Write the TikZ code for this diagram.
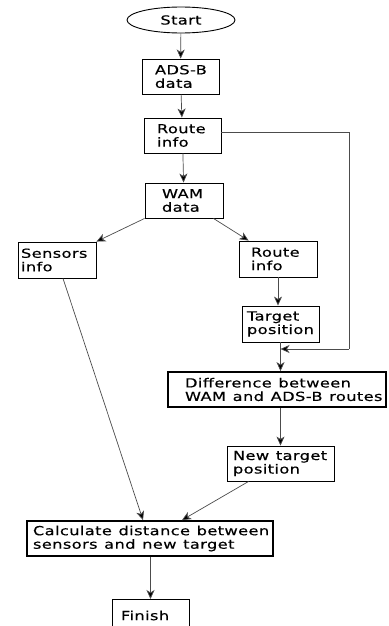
\documentclass[tikz,border=0pt]{standalone}
\usepackage{fontspec}
\setmainfont{DejaVu Sans}[FakeStretch=1.3,LetterSpace=3,WordSpace=1.2,FakeBold=0.4]
\usetikzlibrary{shapes.geometric,arrows.meta}
\begin{document}
\begin{tikzpicture}[x=1pt,y=-1pt,
  font=\fontsize{12.5}{13.5}\selectfont,
  box/.style={draw, line width=0.9pt, align=flush left, minimum height=35pt, inner ysep=0pt},
  bigbox/.style={box, line width=1.8pt},
  conn/.style={draw=black!70, line width=0.7pt},
  arr/.style={conn, -{Stealth[length=9pt,width=8pt,inset=2.5pt,fill=black]}}]
\useasboundingbox (0,0) rectangle (388,626);
\clip (0,0) rectangle (388,626);
\fill[white] (0,0) rectangle (388,626);
\node[draw, line width=0.9pt, ellipse, minimum width=108pt, minimum height=26pt, inner sep=0pt] (start) at (181,20) {Start};
\node[box, inner xsep=13pt, text width=51pt] (ads) at (180.5,76.5) {\mbox{ADS-B}\\\mbox{data}};
\node[box, inner xsep=13pt, text width=51pt] (route1) at (182.5,135.5) {\mbox{Route}\\\mbox{info}};
\node[box, inner xsep=17pt, text width=44pt] (wam) at (184,200.5) {\mbox{WAM}\\\mbox{data}};
\node[box, inner xsep=3pt, text width=72pt, minimum height=36pt] (sens) at (57,260) {\mbox{Sensors}\\\mbox{info}};
\node[box, inner xsep=12pt, text width=54pt, minimum height=36pt] (route2) at (278,259) {\mbox{Route}\\\mbox{info}};
\node[box, inner xsep=5pt, text width=67pt, minimum height=36pt] (tp) at (280.5,324) {\mbox{Target}\\\mbox{position}};
\node[bigbox, inner xsep=17pt, text width=184pt] (diff) at (277,389.5) {\mbox{Difference between}\\\mbox{WAM and ADS-B routes}};
\node[box, inner xsep=6pt, text width=95pt] (newt) at (280.5,463.5) {\mbox{New target}\\\mbox{position}};
\node[bigbox, inner xsep=6pt, text width=234pt] (calc) at (150,538.5) {\mbox{Calculate distance between}\\\mbox{sensors and new target}};
\node[box, inner xsep=9pt, text width=59pt, minimum height=32pt, anchor=north] (fin) at (150.5,599) {\mbox{Finish}};
\coordinate (c1) at (349,132);
\coordinate (c2) at (349,349);
\draw[arr] (start) -- (ads);
\draw[arr] (ads) -- (route1);
\draw[arr] (route1) -- (wam);
\draw[conn] (route1.east |- c1) -- (c1) -- (c2);
\draw[arr] (c2) -- (tp.south |- c2);
\draw[arr] (wam.south west) -- (sens.north east);
\draw[arr] ([xshift=-10pt]wam.south east) -- ([xshift=10pt]route2.north west);
\draw[arr] (route2) -- (route2 |- tp.north);
\draw[arr] (tp.south) -- (tp.south |- diff.north);
\draw[arr] (diff.south -| newt.north) -- (newt.north);
\draw[arr] ([xshift=22pt]newt.south west) -- ([xshift=32pt]calc.north);
\draw[arr] ([xshift=6pt]sens.south) -- ([xshift=-7pt]calc.north);
\draw[arr] (calc.south -| fin.north) -- (fin.north);
\end{tikzpicture}
\end{document}
